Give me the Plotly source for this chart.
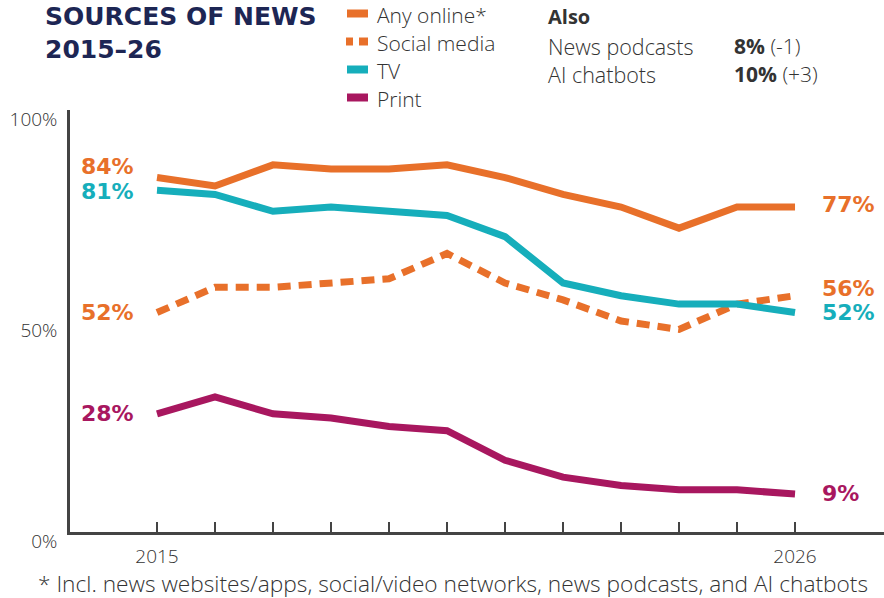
import plotly.graph_objects as go

years = list(range(2015, 2027))
any_online = [84, 82, 87, 86, 86, 87, 84, 80, 77, 72, 77, 77]
social_media = [52, 58, 58, 59, 60, 66, 59, 55, 50, 48, 54, 56]
tv = [81, 80, 76, 77, 76, 75, 70, 59, 56, 54, 54, 52]
printed = [28, 32, 28, 27, 25, 24, 17, 13, 11, 10, 10, 9]

x_labels = ["2015"] + [""] * 10 + ["2026"]
y_ticks = [0, 50, 100]
y_labels = ["0%", "50%", "100%"]

ORANGE = "#E8702A"
TEAL = "#16AEBB"
MAGENTA = "#A8175F"
NAVY = "#1D2654"
TXT = "#333333"
AXIS = "#444444"

W, H = 884, 598
ML, MR, MT, MB = 70, 0, 110, 66
PW, PH = W - ML - MR, H - MT - MB

def px(x):
    return (x - ML) / PW

def py(y):
    return (H - MB - y) / PH

LIGHT = "Open Sans"
NUM = "DejaVu Sans"
TITLE = "DejaVu Sans"

fig = go.Figure()

series = [
    ("Any online*", any_online, ORANGE, "solid"),
    ("Social media", social_media, ORANGE, "13px,8px"),
    ("TV", tv, TEAL, "solid"),
    ("Print", printed, MAGENTA, "solid"),
]
for name, vals, col, dash in series:
    fig.add_trace(go.Scatter(
        x=years, y=vals, mode="lines", name=name,
        line=dict(color=col, width=7, dash=dash, shape="linear"),
        hoverinfo="x+y", showlegend=False, cliponaxis=False,
    ))

annotations = []
# end labels
left_specs = [(any_online, ORANGE, 11), (tv, TEAL, -1), (social_media, ORANGE, 0), (printed, MAGENTA, 0)]
for vals, col, ys in left_specs:
    annotations.append(dict(x=years[0], y=vals[0], xref="x", yref="y",
                            text=f"{vals[0]}%", showarrow=False, xanchor="right",
                            yanchor="middle", xshift=-21, yshift=ys,
                            font=dict(family=NUM, size=22, color=col, weight=700)))
right_specs = [(any_online, ORANGE, 3), (social_media, ORANGE, 7), (tv, TEAL, 0), (printed, MAGENTA, 1)]
for vals, col, ys in right_specs:
    annotations.append(dict(x=years[-1], y=vals[-1], xref="x", yref="y",
                            text=f"{vals[-1]}%", showarrow=False, xanchor="left",
                            yanchor="middle", xshift=25, yshift=ys,
                            font=dict(family=NUM, size=22, color=col, weight=700)))

# title (two lines in one text)
annotations.append(dict(x=px(43), y=py(0), xref="paper", yref="paper",
                        text="SOURCES OF NEWS<br>2015–26",
                        showarrow=False, xanchor="left", yanchor="top", align="left",
                        font=dict(family=TITLE, size=25, color=NAVY, weight=700)))

# legend (manual)
shapes = []
leg_y = [15, 43, 71, 99]
for (name, vals, col, dash), yy in zip(series, leg_y):
    ly = py(yy - 1.5)
    if dash == "solid":
        shapes.append(dict(type="line", xref="paper", yref="paper", x0=px(347), x1=px(368),
                           y0=ly, y1=ly, line=dict(color=col, width=8)))
    else:
        shapes.append(dict(type="line", xref="paper", yref="paper", x0=px(346), x1=px(353),
                           y0=ly, y1=ly, line=dict(color=col, width=8)))
        shapes.append(dict(type="line", xref="paper", yref="paper", x0=px(359), x1=px(368),
                           y0=ly, y1=ly, line=dict(color=col, width=8)))
    annotations.append(dict(x=px(375), y=py(yy), xref="paper", yref="paper", text=name,
                            showarrow=False, xanchor="left", yanchor="middle",
                            font=dict(family=LIGHT, size=21, color=TXT, weight=300)))

# Also box
annotations.append(dict(x=px(546), y=py(17), xref="paper", yref="paper", text="<b>Also</b>",
                        showarrow=False, xanchor="left", yanchor="middle",
                        font=dict(family=LIGHT, size=20, color=TXT)))
also_items = [("News podcasts", "8%", "(-1)", 46), ("AI chatbots", "10%", "(+3)", 74)]
for lab, val, chg, yy in also_items:
    annotations.append(dict(x=px(546), y=py(yy), xref="paper", yref="paper", text=lab,
                            showarrow=False, xanchor="left", yanchor="middle",
                            font=dict(family=LIGHT, size=21.5, color=TXT, weight=300)))
    annotations.append(dict(x=px(732), y=py(yy), xref="paper", yref="paper",
                            text=f"<b>{val}</b> {chg}",
                            showarrow=False, xanchor="left", yanchor="middle",
                            font=dict(family=LIGHT, size=21, color=TXT, weight=300)))

# footnote
annotations.append(dict(x=px(453), y=py(583), xref="paper", yref="paper",
                        text="* Incl. news websites/apps, social/video networks, news podcasts, and AI chatbots",
                        showarrow=False, xanchor="center", yanchor="middle",
                        font=dict(family=LIGHT, size=22.7, color=TXT, weight=300)))

fig.update_layout(
    width=W, height=H,
    margin=dict(l=ML, r=MR, t=MT, b=MB),
    paper_bgcolor="white", plot_bgcolor="white",
    showlegend=False,
    annotations=annotations, shapes=shapes,
    xaxis=dict(range=[2013.5, 2027.534], tickmode="array", tickvals=years, ticktext=x_labels,
               ticks="inside", ticklen=10, tickwidth=1.5, tickcolor=AXIS,
               showline=True, linecolor=AXIS, linewidth=2.5, showgrid=False, zeroline=False,
               ticklabelstandoff=5,
               tickfont=dict(family=LIGHT, size=19, color=TXT, weight=300)),
    yaxis=dict(range=[0, 100], tickmode="array", tickvals=y_ticks, ticktext=y_labels,
               ticks="", showline=True, linecolor=AXIS, linewidth=2.5, showgrid=False,
               zeroline=False, ticklabelstandoff=6, ticklabelshift=9,
               tickfont=dict(family=LIGHT, size=19, color=TXT, weight=300)),
)

fig.write_html("out.html")
